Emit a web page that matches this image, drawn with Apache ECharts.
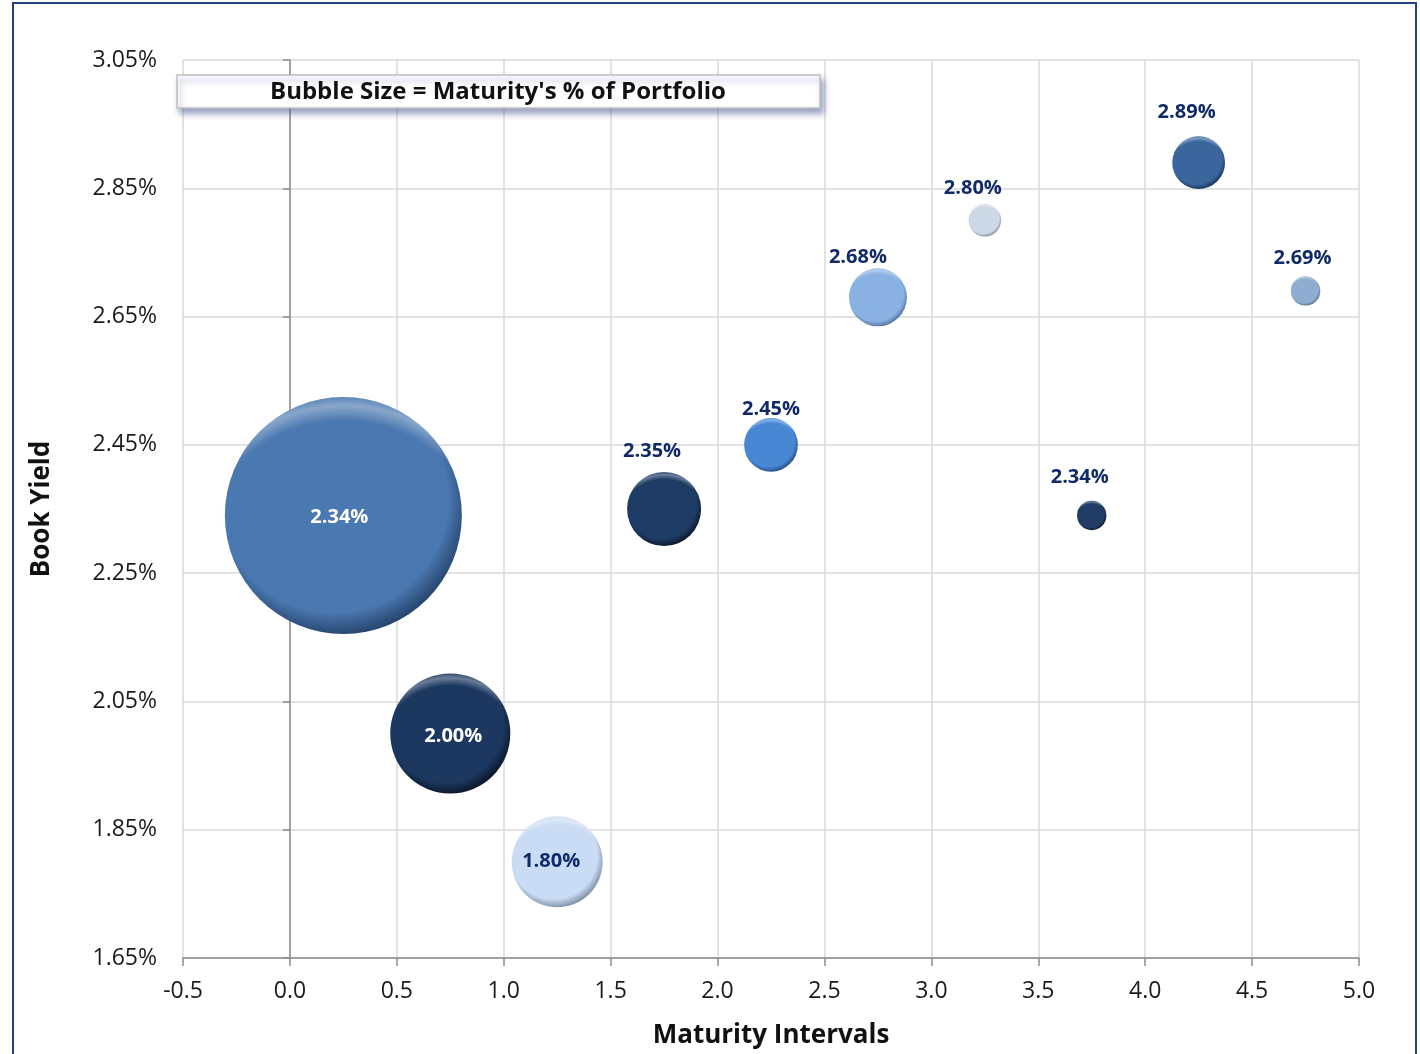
<!DOCTYPE html>
<html>
<head>
<meta charset="utf-8">
<script src="https://cdn.jsdelivr.net/npm/echarts@6/dist/echarts.min.js"></script>
<style>
  html, body { margin: 0; padding: 0; background: #fff; overflow: hidden; }
  #chart { width: 1420px; height: 1054px; }
</style>
</head>
<body>
<div id="chart"></div>
<script>
// maturity interval midpoints (years)
var maturity = [0.25, 0.75, 1.25, 1.75, 2.25, 2.75, 3.25, 3.75, 4.25, 4.75];
// book yield, percent
var bookYield = [2.34, 2.00, 1.80, 2.35, 2.45, 2.68, 2.80, 2.34, 2.89, 2.69];
// maturity's share of the portfolio, percent (bubble size)
var portfolioPct = [58.4, 15.0, 8.6, 5.7, 3.0, 3.5, 1.1, 0.9, 2.9, 0.9];

var xTicks = { min: -0.5, max: 5.0, step: 0.5 };
var yTicks = { min: 1.65, max: 3.05, step: 0.2 };

// bubble colours (base, rim)
var bubbleColors = [
  ['#4A78B0', '#1E3A60'],
  ['#1C3860', '#070F1E'],
  ['#C9DCF4', '#6E7E94'],
  ['#1D3B64', '#070F1E'],
  ['#4787D4', '#1F4270'],
  ['#89B2E2', '#4A6890'],
  ['#CCD8E6', '#6C7888'],
  ['#213D66', '#070F1E'],
  ['#3A669D', '#132A48'],
  ['#8FADD0', '#4A6080']
];
// label placement: inside the bubble or above it, with a small nudge
var labelInside = [true, true, true, false, false, false, false, false, false, false];
var labelNudge = [[-4, 2], [3, 3], [-6, 0], [-12, -3], [0, 9], [-20, 7], [-12, 2], [-12, -5], [-12, -6], [-3, 0]];

var maxDiameter = 237;
var maxPct = Math.max.apply(null, portfolioPct);

var gridLeft = 183, gridRight = 61, gridTop = 60, gridBottom = 95;
var gridWidth = 1420 - gridLeft - gridRight;
var zeroOffset = (0 - xTicks.min) / (xTicks.max - xTicks.min) * gridWidth;

var labelColor = '#0F2A66';
var fontFamily = '"Open Sans", "Noto Sans", sans-serif';

function bubbleSize(val) {
  return maxDiameter * Math.sqrt(val[2] / maxPct);
}

var points = maturity.map(function (m, i) {
  var c = bubbleColors[i];
  return {
    value: [m, bookYield[i], portfolioPct[i]],
    itemStyle: {
      opacity: 1,
      color: {
        type: 'radial', x: 0.46, y: 0.43, r: 0.6,
        colorStops: [
          { offset: 0, color: c[0] },
          { offset: 0.8, color: c[0] },
          { offset: 1, color: c[1] }
        ]
      }
    },
    label: labelInside[i] ? {
      position: 'inside',
      offset: labelNudge[i],
      color: i === 2 ? labelColor : '#ffffff'
    } : {
      position: 'top',
      distance: 8,
      offset: labelNudge[i],
      color: labelColor
    }
  };
});

// glossy top rim for each bubble
var shine = maturity.map(function (m, i) {
  return [m, bookYield[i], portfolioPct[i]];
});

var chart = echarts.init(document.getElementById('chart'));

var option = {
  backgroundColor: '#ffffff',
  animation: false,
  grid: { left: gridLeft, right: gridRight, top: gridTop, bottom: gridBottom },
  xAxis: {
    type: 'value',
    min: xTicks.min,
    max: xTicks.max,
    interval: xTicks.step,
    name: 'Maturity Intervals',
    nameLocation: 'middle',
    nameGap: 65,
    nameTextStyle: { fontFamily: fontFamily, fontWeight: 'bold', fontSize: 26, color: '#111' },
    axisLine: { onZero: false, lineStyle: { color: '#8C8C8C', width: 1.5 } },
    axisTick: { show: true, length: 8, lineStyle: { color: '#8C8C8C', width: 1.5 } },
    axisLabel: {
      fontFamily: fontFamily, fontSize: 23, color: '#1a1a1a', margin: 22,
      formatter: function (v) { return v.toFixed(1); }
    },
    splitLine: { show: true, lineStyle: { color: '#D9D9D9', width: 1.5 } }
  },
  yAxis: [{
    type: 'value',
    min: yTicks.min,
    max: yTicks.max,
    interval: yTicks.step,
    name: 'Book Yield',
    nameLocation: 'middle',
    nameGap: 128,
    nameRotate: 90,
    nameTextStyle: { fontFamily: fontFamily, fontWeight: 'bold', fontSize: 26, color: '#111' },
    axisLine: { show: false },
    axisTick: { show: false },
    axisLabel: {
      fontFamily: fontFamily, fontSize: 23, color: '#1a1a1a', margin: 26,
      formatter: function (v) { return v.toFixed(2) + '%'; }
    },
    splitLine: { show: true, lineStyle: { color: '#D9D9D9', width: 1.5 } }
  }, {
    type: 'value',
    position: 'left',
    offset: -zeroOffset,
    min: yTicks.min,
    max: yTicks.max,
    interval: yTicks.step,
    axisLine: { show: true, onZero: false, lineStyle: { color: '#8C8C8C', width: 1.5 } },
    axisTick: { show: true, length: 7, lineStyle: { color: '#8C8C8C', width: 1.5 } },
    axisLabel: { show: false },
    splitLine: { show: false }
  }],
  series: [{
    type: 'scatter',
    data: points,
    symbolSize: bubbleSize,
    label: {
      show: true,
      fontFamily: fontFamily,
      fontWeight: 'bold',
      fontSize: 20,
      formatter: function (p) { return p.value[1].toFixed(2) + '%'; }
    },
    emphasis: { disabled: true },
    z: 5
  }, {
    type: 'scatter',
    data: shine,
    symbolSize: bubbleSize,
    silent: true,
    itemStyle: {
      opacity: 1,
      color: {
        type: 'radial', x: 0.5, y: 0.72, r: 0.72,
        colorStops: [
          { offset: 0, color: 'rgba(255,255,255,0)' },
          { offset: 0.86, color: 'rgba(255,255,255,0)' },
          { offset: 0.95, color: 'rgba(255,255,255,0.35)' },
          { offset: 1, color: 'rgba(255,255,255,0.1)' }
        ]
      }
    },
    emphasis: { disabled: true },
    z: 6
  }],
  graphic: [{
    type: 'rect',
    shape: { x: 13, y: 3, width: 1403, height: 1070 },
    style: { fill: 'none', stroke: '#23427E', lineWidth: 2 },
    z: 100
  }, {
    type: 'rect',
    z: 90,
    shape: { x: 177, y: 75, width: 643, height: 33 },
    style: {
      fill: '#ffffff', stroke: '#BFBFBF', lineWidth: 1.5,
      shadowBlur: 6, shadowOffsetX: 3, shadowOffsetY: 5,
      shadowColor: 'rgba(70,90,150,0.55)'
    }
  }, {
    type: 'text',
    z: 91,
    x: 498, y: 92,
    style: {
      text: "Bubble Size = Maturity's % of Portfolio",
      fontFamily: fontFamily, fontWeight: 'bold', fontSize: 24,
      fill: '#111', align: 'center', verticalAlign: 'middle'
    }
  }]
};

chart.setOption(option);
</script>
</body>
</html>
